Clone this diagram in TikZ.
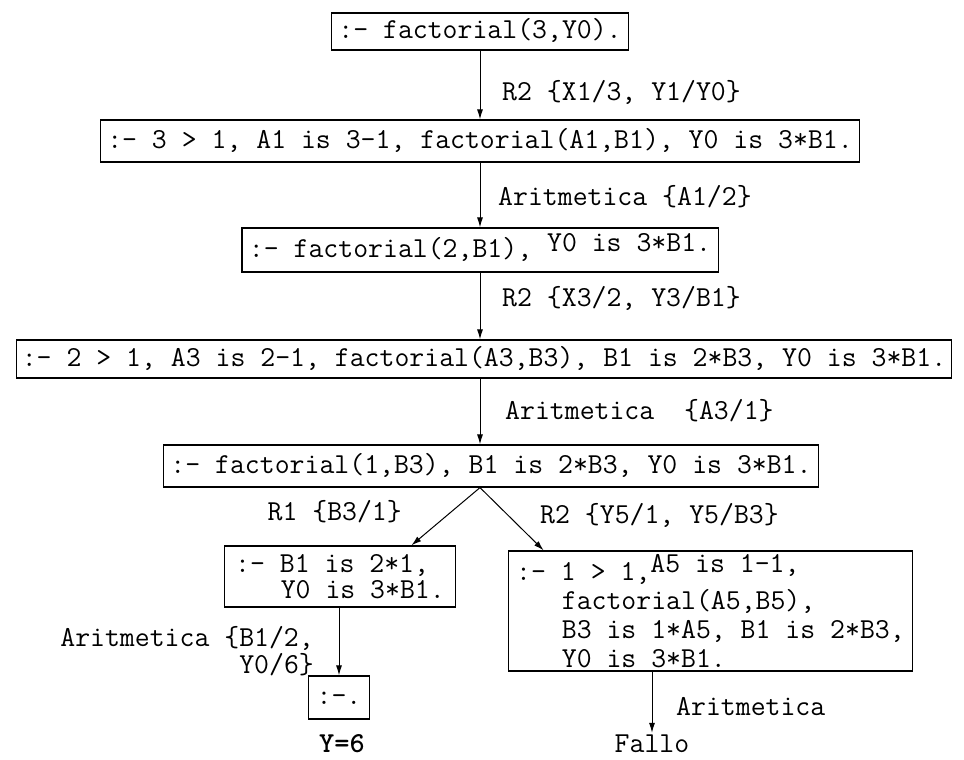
\documentclass[tikz,border=0pt]{standalone}
\usepackage{fontspec}
\usetikzlibrary{arrows.meta,calc}
\newcommand\myind{\hspace*{45.6pt}}
\newcommand\tfont{\ttfamily\fontsize{28.95}{29}\selectfont}
\begin{document}
\begin{tikzpicture}[x=1pt,y=-1pt,
  box/.style={draw,line width=1.2pt,font=\tfont,inner xsep=7pt,inner ysep=0pt},
  single/.style={text height=20pt,text depth=6pt},
  lbl/.style={font=\tfont,inner sep=0pt},
  arr/.style={line width=1pt,-{Latex[length=10pt,width=6pt]}}]
\useasboundingbox (0,0) rectangle (964,760);
\fill[white] (0,0) rectangle (964,760);
% boxes
\node[box,single,minimum height=37pt] (b1) at (480,31.5) {:- factorial(3,Y0).};
\node[box,single,minimum height=42pt] (b2) at (480,141) {:- 3 > 1, A1 is 3-1, factorial(A1,B1), Y0 is 3*B1.};
\node[box,single,minimum height=44pt] (b3) at (480,250) {:- factorial(2,B1), \raisebox{6pt}{Y0 is 3*B1.}};
\node[box,single,inner xsep=5pt,minimum height=38pt] (b4) at (484,359) {:- 2 > 1, A3 is 2-1, factorial(A3,B3), B1 is 2*B3, Y0 is 3*B1.};
\node[box,single,minimum height=42pt] (b5) at (491,466) {:- factorial(1,B3), B1 is 2*B3, Y0 is 3*B1.};
\node[box,align=left,inner xsep=11pt,minimum height=61pt,font=\ttfamily\fontsize{28.95}{26}\selectfont] (b6) at (340,576.5) {:- B1 is 2*1,\\\myind Y0 is 3*B1.};
\node[box,align=left,inner xsep=8pt,minimum height=120pt] (b7) at (710.5,611) {:- 1 > 1,\raisebox{8pt}{A5 is 1-1,}\\\myind factorial(A5,B5),\\\myind B3 is 1*A5, B1 is 2*B3,\\\myind Y0 is 3*B1.};
\node[box,single,inner xsep=8pt,minimum height=43pt] (b8) at (339,697.5) {:-.};
% labels
\node[lbl,anchor=west] (l1) at (502,92) {R2 \{X1/3, Y1/Y0\}};
\node[lbl,anchor=west] (l2) at (498,197) {Aritmetica \{A1/2\}};
\node[lbl,anchor=west] (l3) at (502,298) {R2 \{X3/2, Y3/B1\}};
\node[lbl,anchor=west] (l4) at (505,411) {Aritmetica\ \ \{A3/1\}};
\node[lbl,anchor=east] (l5) at (402,512) {R1 \{B3/1\}};
\node[lbl,anchor=west] (l6) at (540,515) {R2 \{Y5/1, Y5/B3\}};
\node[lbl,anchor=east,align=right,font=\ttfamily\fontsize{28.95}{27}\selectfont] (l7) at (314,651) {Aritmetica \{B1/2,\\Y0/6\}};
\node[lbl,anchor=west] (l8) at (676,707) {Aritmetica};
\node[lbl,font=\ttfamily\bfseries\fontsize{28.95}{26}\selectfont] (y6) at (342,744) {Y=6};
\node[lbl,inner sep=2pt] (fallo) at (652,744) {Fallo};
% connectors
\draw[arr] (b1) -- (b2);
\draw[arr] (b2) -- (b3);
\draw[arr] (b3.south) -- (b3.south |- b4.north);
\draw[arr] (b3.south |- b4.south) -- (b3.south |- b5.north);
\coordinate (br) at (b3.south |- b5.south);
\draw[arr] (br) -- ([xshift=-45pt]b6.north east);
\draw[arr] (br) -- ([xshift=36pt]b7.north west);
\draw[arr] (b8.north |- b6.south) -- (b8.north);
\draw[arr] (fallo.north |- b7.south) -- (fallo.north);
\end{tikzpicture}
\end{document}
